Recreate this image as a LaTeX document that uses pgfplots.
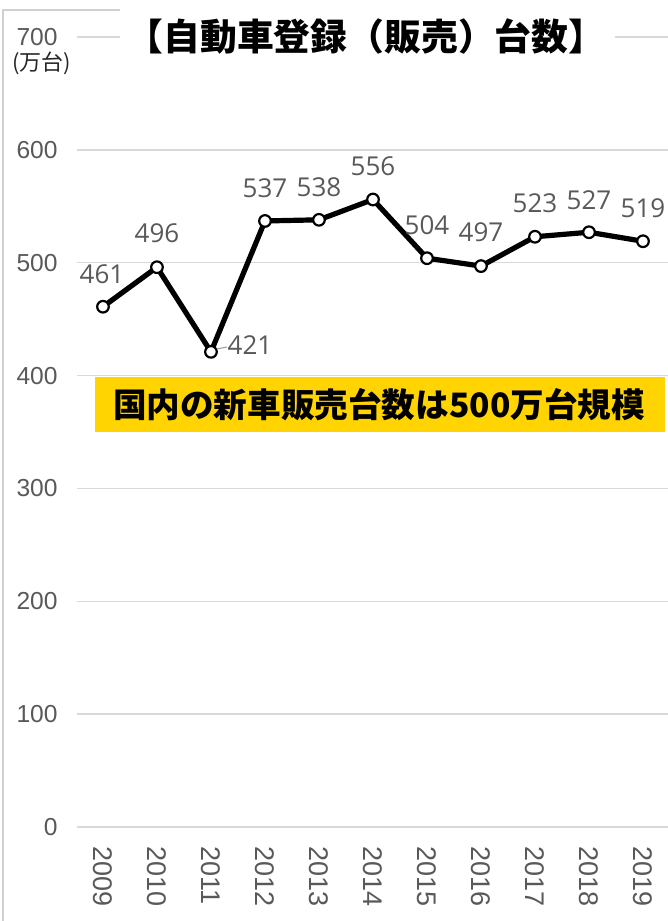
\documentclass[border=0pt]{standalone}
\usepackage{pgfplots}
\pgfplotsset{compat=1.18}
\usepackage{fontspec}
\setmainfont{Liberation Sans}
\newfontfamily\cjk{Noto Sans CJK JP}
\newfontfamily\lab{Open Sans}
\definecolor{tickgray}{HTML}{595959}
\definecolor{gridgray}{HTML}{D9D9D9}
\definecolor{boxyellow}{HTML}{FFD400}
\definecolor{bordergray}{HTML}{D0D0D0}
\newcommand\pp[2]{({((#1)-77)*0.5pt},{(827-(#2))*0.5pt})}
\begin{document}
\begin{tikzpicture}
\begin{axis}[
  at={(0,0)}, anchor=south west,
  scale only axis, width=295.5pt, height=395pt,
  xmin=2008.519, xmax=2019.463, ymin=0, ymax=700,
  xtick={2009,...,2019}, ytick={0,100,...,700},
  ymajorgrids, grid style={gridgray, line width=0.75pt},
  axis line style={draw=none}, major tick length=0pt, tick style={draw=none},
  /pgf/number format/assume math mode=true,
  /pgf/number format/set thousands separator={},
  yticklabel style={font=\fontsize{12.3}{14}\selectfont, color=tickgray, anchor=east, inner sep=0pt, xshift=-9.5pt},
  xticklabel style={font=\fontsize{13.5}{15}\selectfont, color=tickgray, rotate=-90, anchor=west, inner sep=0pt, inner xsep=9.5pt},
  clip=false,
]
\addplot[black, line width=2.6pt, line join=round, mark=*, mark size=2.9pt,
  mark options={fill=white, draw=black, line width=1.1pt},
  nodes near coords,
  visualization depends on={value \thisrow{dx} \as \dx},
  visualization depends on={value \thisrow{dy} \as \dy},
  every node near coord/.style={anchor=center, xshift=\dx pt, yshift=\dy pt, font=\lab\fontsize{13}{15}\selectfont, text=tickgray},
] table {
x y dx dy
2009 461 -0.5 16.5
2010 496 0 17
2011 421 19.5 3.5
2012 537 0 16.5
2013 538 0 16.5
2014 556 0 16.5
2015 504 0 16.5
2016 497 0 17
2017 523 0 17
2018 527 0 16
2019 519 0 16.5
};
\end{axis}
\draw[bordergray, line width=0.75pt] \pp{3}{921} -- \pp{3}{10} -- \pp{120}{10};
\fill[white] \pp{120}{-2} rectangle \pp{615}{66};
\node[font=\cjk\bfseries\fontsize{18.4}{21}\selectfont] at \pp{366}{37} {【自動車登録（販売）台数】};
\node[font=\cjk\fontsize{11}{13}\selectfont, text=black!85] at \pp{42}{63} {(万台)};
\fill[boxyellow] \pp{95}{377} rectangle \pp{665}{432};
\node[font=\cjk\bfseries\fontsize{16.8}{20}\selectfont] at \pp{379}{405} {国内の新車販売台数は500万台規模};
\draw[tickgray!60, line width=0.5pt] \pp{217}{349} -- \pp{227}{347};
\pgfresetboundingbox
\useasboundingbox \pp{0}{0} rectangle \pp{668}{921};
\end{tikzpicture}
\end{document}
